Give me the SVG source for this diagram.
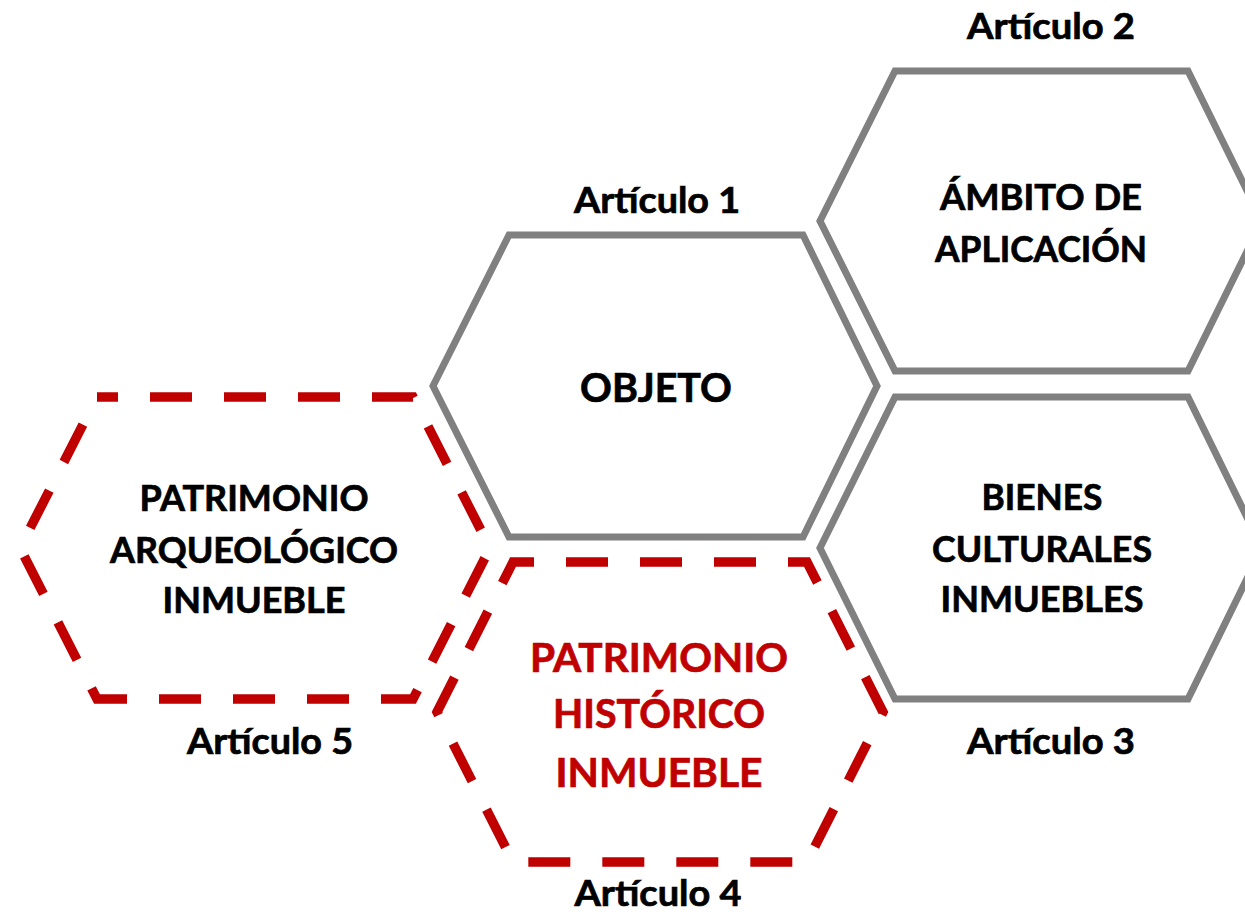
<svg xmlns="http://www.w3.org/2000/svg" width="1245" height="915" viewBox="0 0 1245 915">
<style>
.bg{fill:#ffffff}
.hex{fill:none;stroke:#808080;stroke-width:7;stroke-linejoin:miter}
.hexr{fill:none;stroke:#C00000;stroke-width:9.5;stroke-dasharray:42 32;stroke-dashoffset:21;stroke-linejoin:miter}
text{font-family:Lato,"Liberation Sans",sans-serif;font-weight:bold;text-anchor:middle;fill:#000000;stroke:#000000;stroke-width:0.7}
.t{font-size:36px}
.big{font-size:40px}
.red{fill:#C00000;stroke:#C00000;font-size:40px}
.lbl{font-size:36px}
</style>
<rect class="bg" x="0" y="0" width="1245" height="915"/>
<g id="connectors"/>
<g id="node-objeto">
<polygon class="hex" points="509,235 803,235 877,386 803,537 509,537 433,386"/>
<text class="big" x="656" y="402" textLength="152" lengthAdjust="spacingAndGlyphs">OBJETO</text>
<text class="lbl" x="657" y="213" textLength="166" lengthAdjust="spacingAndGlyphs">Artículo 1</text>
</g>
<g id="node-ambito">
<polygon class="hex" points="895,71 1188,71 1262,221 1188,371 895,371 820,221"/>
<text class="t" x="1041" y="210" textLength="202" lengthAdjust="spacingAndGlyphs">ÁMBITO DE</text>
<text class="t" x="1041" y="262" textLength="212" lengthAdjust="spacingAndGlyphs">APLICACIÓN</text>
<text class="lbl" x="1051" y="39" textLength="168" lengthAdjust="spacingAndGlyphs">Artículo 2</text>
</g>
<g id="node-bienes">
<polygon class="hex" points="895,397 1188,397 1262,548 1188,699 895,699 820,548"/>
<text class="t" x="1042" y="510" textLength="121" lengthAdjust="spacingAndGlyphs">BIENES</text>
<text class="t" x="1042" y="562" textLength="220" lengthAdjust="spacingAndGlyphs">CULTURALES</text>
<text class="t" x="1042" y="612" textLength="203" lengthAdjust="spacingAndGlyphs">INMUEBLES</text>
<text class="lbl" x="1051" y="754" textLength="168" lengthAdjust="spacingAndGlyphs">Artículo 3</text>
</g>
<g id="node-arqueologico">
<path class="hexr" d="M97,397 L413,397 L490,548 L413,699 L97,699 L20,548 Z"/>
<text class="t" x="254" y="511" textLength="229" lengthAdjust="spacingAndGlyphs">PATRIMONIO</text>
<text class="t" x="254" y="563" textLength="288" lengthAdjust="spacingAndGlyphs">ARQUEOLÓGICO</text>
<text class="t" x="254" y="613" textLength="183" lengthAdjust="spacingAndGlyphs">INMUEBLE</text>
<text class="lbl" x="270" y="754" textLength="166" lengthAdjust="spacingAndGlyphs">Artículo 5</text>
</g>
<g id="node-historico">
<path class="hexr" d="M513,562 L807,562 L883,712 L807,862 L513,862 L437,712 Z"/>
<text class="red" x="659" y="672" textLength="258" lengthAdjust="spacingAndGlyphs">PATRIMONIO</text>
<text class="red" x="659" y="728" textLength="212" lengthAdjust="spacingAndGlyphs">HISTÓRICO</text>
<text class="red" x="659" y="787" textLength="207" lengthAdjust="spacingAndGlyphs">INMUEBLE</text>
<text class="lbl" x="658" y="906" textLength="167" lengthAdjust="spacingAndGlyphs">Artículo 4</text>
</g>
</svg>
